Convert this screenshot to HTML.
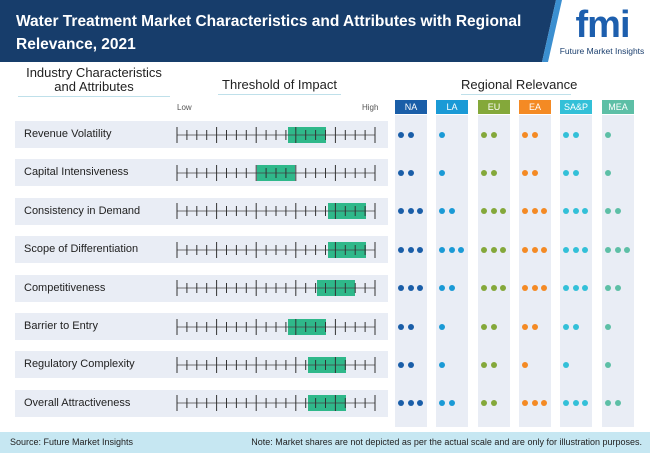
<!DOCTYPE html><html><head><style>
*{margin:0;padding:0;box-sizing:border-box}
body{width:650px;height:453px;position:relative;background:#fff;font-family:"Liberation Sans",sans-serif;overflow:hidden}
.a{position:absolute}
.row{position:absolute;left:15px;width:373px;height:27px;background:#e9edf5}
.lab{position:absolute;left:9px;top:7px;font-size:11px;color:#222;white-space:nowrap}
.col{position:absolute;top:115px;height:312px;width:32px;background:#e9edf5}
.hd{position:absolute;top:100px;height:14px;width:32px;color:#fff;font-size:9px;text-align:center;line-height:14px}
.d{position:absolute;width:6px;height:6px;border-radius:50%}
.h2{position:absolute;font-size:13px;color:#222;text-align:center;border-bottom:1px solid #bfe0ea;padding-bottom:2px;white-space:nowrap}
</style></head><body>
<svg class="a" style="left:0;top:0" width="650" height="62"><polygon points="0,0 556,0 542,62 0,62" fill="#173d6b"/><polygon points="556,0 562,0 548,62 542,62" fill="#3b8fd0"/></svg>
<div class="a" style="left:16px;top:10px;color:#fff;font-weight:bold;font-size:15.5px;line-height:23px">Water Treatment Market Characteristics and Attributes with Regional<br>Relevance, 2021</div>
<div class="a" style="left:560px;top:4px;width:85px;text-align:center;color:#1d5fae;font-weight:bold;font-size:38px;line-height:42px;letter-spacing:-1px">fmi</div>
<div class="a" style="left:556px;top:46px;width:92px;text-align:center;color:#1b3f6e;font-size:8.5px">Future Market Insights</div>
<div class="h2" style="left:18px;top:66px;width:152px;line-height:14px">Industry Characteristics<br>and Attributes</div>
<div class="h2" style="left:218px;top:77px;width:123px">Threshold of Impact</div>
<div class="h2" style="left:461px;top:77px;width:110px">Regional Relevance</div>
<div class="a" style="left:177px;top:103px;font-size:8px;color:#555">Low</div>
<div class="a" style="left:362px;top:103px;font-size:8px;color:#555">High</div>
<div id="c"></div>
<div class="a" style="left:0;top:432px;width:650px;height:21px;background:#c6e7f2"></div>
<div class="a" style="left:10px;top:437px;font-size:9px;color:#222">Source: Future Market Insights</div>
<div class="a" style="right:8px;top:437px;font-size:9px;color:#222">Note: Market shares are not depicted as per the actual scale and are only for illustration purposes.</div>
<script>
(function(){
var labs=["Revenue Volatility","Capital Intensiveness","Consistency in Demand","Scope of Differentiation","Competitiveness","Barrier to Entry","Regulatory Complexity","Overall Attractiveness"];
var box=[288,257,328,328,317,288,308,308];
var cols=[["NA",395,"#1a5ea8"],["LA",436,"#1a9ad6"],["EU",478,"#84a83a"],["EA",519,"#f48a24"],["SA&amp;P",560,"#33c0d8"],["MEA",602,"#5dbfa6"]];
var cnt=[[2,1,2,2,2,1],[2,1,2,2,2,1],[3,2,3,3,3,2],[3,3,3,3,3,3],[3,2,3,3,3,2],[2,1,2,2,2,1],[2,1,2,1,1,1],[3,2,2,3,3,2]];
var h="";
cols.forEach(function(c){h+='<div class="col" style="left:'+c[1]+'px"></div><div class="hd" style="left:'+c[1]+'px;background:'+c[2]+'">'+c[0]+'</div>';});
for(var i=0;i<8;i++){var cy=134.5+i*38.4;var ty=cy-13.5;
h+='<div class="row" style="top:'+ty+'px"><div class="lab">'+labs[i]+'</div></div>';
h+='<div class="a" style="left:'+box[i]+'px;top:'+(cy-8)+'px;width:38px;height:16px;background:#2fb88a"></div>';
var s='<svg class="a" style="left:170px;top:'+(cy-10)+'px" width="215" height="20"><line x1="7" y1="10" x2="205" y2="10" stroke="#444" stroke-width="0.8"/>';
for(var k=0;k<=20;k++){var x=7+k*9.9;var t=(k%4==0)?8:5;s+='<line x1="'+x+'" y1="'+(10-t)+'" x2="'+x+'" y2="'+(10+t)+'" stroke="#333" stroke-width="1"/>';}
h+=s+'</svg>';
for(var j=0;j<6;j++){for(var n=0;n<cnt[i][j];n++){h+='<div class="d" style="left:'+(cols[j][1]+3+n*9.7)+'px;top:'+(cy-3)+'px;background:'+cols[j][2]+'"></div>';}}
}
document.getElementById("c").innerHTML=h;
})();
</script>
</body></html>
